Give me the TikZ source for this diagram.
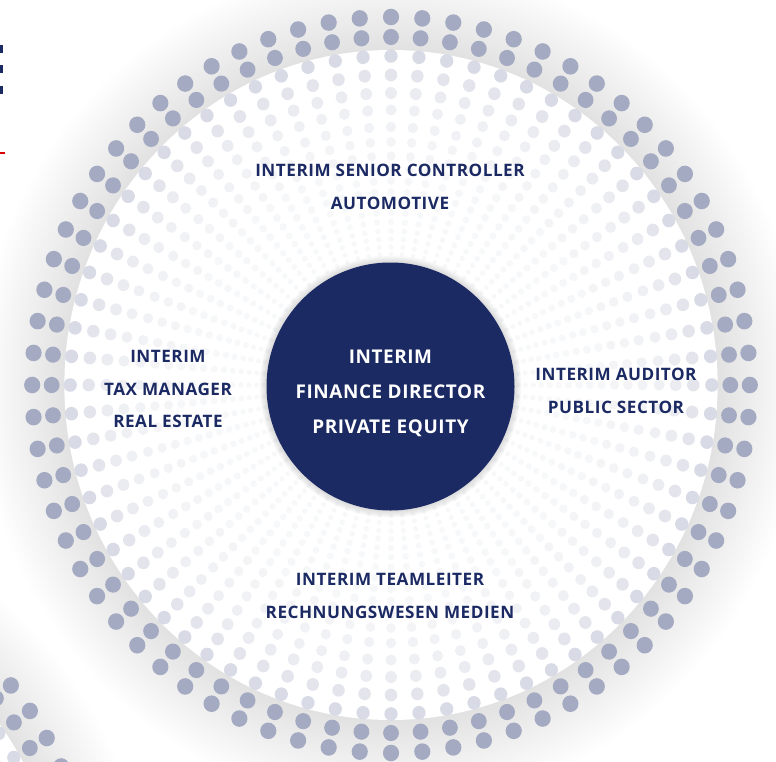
\documentclass[tikz,border=0pt]{standalone}
\usepackage{fontspec}
\setmainfont{Open Sans}
\newfontfamily\jobfont[LetterSpace=3]{Open Sans}

\definecolor{navy}{HTML}{1C2A64}

\tikzset{
  jobtext/.style={text=navy, align=center, inner sep=0pt,
    font=\jobfont\bfseries\fontsize{17.2}{33}\selectfont},
  headtext/.style={text=white, align=center, inner sep=0pt,
    font=\jobfont\bfseries\fontsize{19}{35}\selectfont}
}

% grey band (stacked thin layers) of one dot circle
\newcommand{\dotband}[2]{%
  \begin{scope}[shift={(#1,#2)}, xscale=0.975]
    \foreach \r in {470,467,...,338}{
      \pgfmathsetmacro\o{(10*((473-\r)/135)^1.5-10*((470-\r)/135)^1.5)/100}
      \fill[black, opacity=\o] (0,0) circle (\r);
    }
  \end{scope}}

% white disc and dots: radius / dot size / tint
\newcommand{\dotfield}[3]{%
  \begin{scope}[shift={(#1,#2)}, xscale=0.975]
    \fill[white] (0,0) circle (335);
    \foreach \r/\d/\c in {368/8.3/40, 348/8.1/40, 329/6.8/17, 310/6.4/12,
        292/6.0/9, 275/5.6/7, 258/5.2/6, 243/4.9/5, 229/4.6/5, 216/4.3/4,
        204/4.0/4, 193/3.8/4, 182/3.5/3.5, 172/3.3/3.5, 163/3.1/3.5, 154/2.9/3.5,
        146/2.7/3.5, 138/2.5/3.5, 131/2.3/3.5}{
      \foreach \a in {#3}{
        \fill[navy!\c] (\a:\r) circle (\d);
      }
    }
  \end{scope}}

\begin{document}
\begin{tikzpicture}[x=1bp,y=-1bp]

	\useasboundingbox (0,0) rectangle (776,762);
	\clip (0,0) rectangle (776,762);
	\fill[white] (0,0) rectangle (776,762);

	% Kreise
	\dotband{391}{385}
	\dotband{-264}{922}
	\dotfield{391}{385}{0,5,...,355}
	\dotfield{-264}{922}{295,300,...,345}

	% Mitte
	\foreach \k in {1,...,7}
		\fill[black, opacity=0.02] (390.5,386.5) circle (124+\k);
	\node (director) at (390.5,386.5) [circle,fill=navy,minimum size=248bp,inner sep=0pt] {};
	\node (directortext) at (390.5,393) [headtext] {INTERIM\\FINANCE DIRECTOR\\PRIVATE EQUITY};

	% Rollen
	\node (controller) at (390,187) [jobtext] {INTERIM SENIOR CONTROLLER\\AUTOMOTIVE};
	\node (taxmanager) at (168,389) [jobtext] {INTERIM\\TAX MANAGER\\REAL ESTATE};
	\node (auditor) at (616,390.5) [jobtext] {INTERIM AUDITOR\\PUBLIC SECTOR};
	\node (teamleiter) at (390,595.5) [jobtext] {INTERIM TEAMLEITER\\RECHNUNGSWESEN MEDIEN};

	% Rand links oben
	\fill[navy] (0,45) rectangle (2.5,53);
	\fill[navy] (0,65) rectangle (2.5,73);
	\fill[navy] (0,86) rectangle (2.5,94);
	\draw[red!85!black, line width=1.3bp] (0,153) -- (5,153);

\end{tikzpicture}
\end{document}
